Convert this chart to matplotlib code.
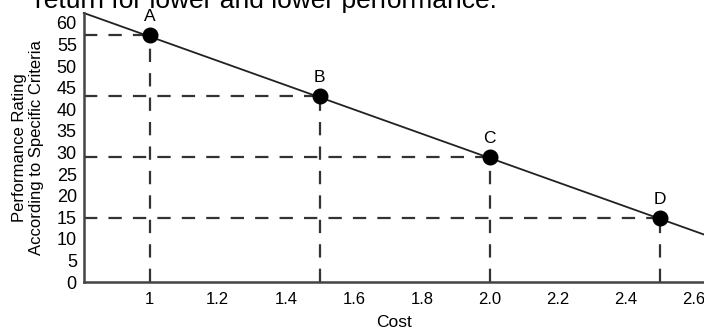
import matplotlib.pyplot as plt

plt.rcParams['font.family'] = ['Liberation Sans', 'DejaVu Sans']

# points on the chart
labels = ['A', 'B', 'C', 'D']
cost = [1.0, 1.5, 2.0, 2.5]
rating = [57.2, 43, 28.9, 14.8]

# trend line end points
line_x = [0.806, 2.63]
line_y = [62.3, 11.0]

xticks = [1, 1.2, 1.4, 1.6, 1.8, 2.0, 2.2, 2.4, 2.6]
xticklabels = ['1', '1.2', '1.4', '1.6', '1.8', '2.0', '2.2', '2.4', '2.6']
yticks = list(range(0, 65, 5))

fig = plt.figure(figsize=(7.04, 3.33), dpi=100)
ax = fig.add_axes([0.119, 0.153, 0.881, 0.808])

ax.plot(line_x, line_y, color='#222222', lw=1.3, clip_on=False)

for lab, x, y in zip(labels, cost, rating):
    ax.plot([line_x[0], x], [y, y], color='#333333', lw=1.6, dashes=(6, 5))
    ax.plot([x, x], [0, y], color='#333333', lw=1.6, dashes=(6, 5))
    ax.plot(x, y, 'o', color='black', ms=10.5, zorder=5)
    ax.text(x, y + 2.6, lab, ha='center', va='bottom', fontsize=12.5)

ax.set_xlim(line_x[0], line_x[1])
ax.set_ylim(0, line_y[0])
ax.set_xticks(xticks)
ax.set_xticklabels(xticklabels, fontsize=12)
ax.set_yticks(yticks)
ax.set_yticklabels([str(v) for v in yticks], fontsize=13)
ax.tick_params(axis='x', length=0, pad=7)
ax.tick_params(axis='y', length=0, pad=5)

for s in ['top', 'right']:
    ax.spines[s].set_visible(False)
for s in ['left', 'bottom']:
    ax.spines[s].set_linewidth(1.8)
    ax.spines[s].set_color('#444444')

ax.set_xlabel('Cost', fontsize=12.5, labelpad=6)
ax.set_ylabel('Performance Rating\nAccording to Specific Criteria', fontsize=12,
              labelpad=9, linespacing=1.15)

fig.text(0.05, 0.976, 'return for lower and lower performance.', fontsize=19,
         va='baseline', ha='left')

fig.savefig('out.png', dpi=100)
